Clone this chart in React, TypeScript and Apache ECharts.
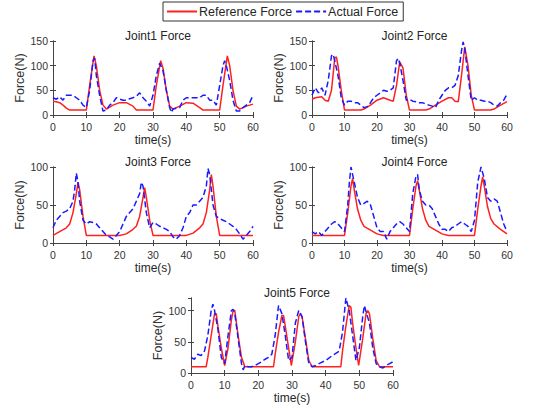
import React, { useEffect, useRef } from "react";
import * as echarts from "echarts";

const timeTicks = [0, 10, 20, 30, 40, 50, 60];
const titles = ["Joint1 Force", "Joint2 Force", "Joint3 Force", "Joint4 Force", "Joint5 Force"];
const yMax = [150, 150, 100, 100, 120];
const yInterval = [50, 50, 50, 50, 50];

const joint1Reference = [[0,28],[1,27],[2,25],[3,20],[4,14],[5,10],[10,10],[11,60],[12.3,120],[13,100],[14,50],[15,20],[16,12],[18,20],[20,25],[22,25],[24,18],[25,10],[30,10],[31,60],[32.3,110],[33,95],[34,50],[35,18],[36,12],[38,18],[40,25],[42,24],[44,15],[45,10],[50,10],[51,60],[52.3,120],[53,100],[54,50],[55,18],[56,12],[58,18],[60,22]];
const joint1Actual = [[0,35],[1,32],[2,37],[3,30],[4,40],[5,40],[6,40],[7,35],[8,30],[9,20],[10,15],[11,50],[12,110],[12.5,115],[13,80],[14,40],[15,8],[16,10],[17,20],[18,25],[19,35],[20,32],[21,30],[22,30],[23,33],[24,35],[25,38],[26,45],[27,35],[28,28],[29,18],[30,40],[31,80],[32,105],[33,90],[34,50],[35,15],[35.5,5],[36,12],[38,15],[39,30],[40,35],[42,35],[44,35],[45,40],[46,40],[47,30],[48,30],[49,20],[50,60],[51,100],[51.5,110],[52,100],[53,70],[54,30],[55,8],[56,8],[57,15],[58,20],[59,25],[60,40]];

const joint2Reference = [[0,32],[1,35],[3,37],[4,30],[5,28],[6,50],[7,115],[7.5,118],[8,100],[9,50],[10,10],[15,10],[16,12],[18,20],[20,30],[22,35],[24,30],[25,28],[26,60],[27,108],[28,95],[29,40],[30,10],[35,10],[36,12],[38,20],[40,28],[42,35],[43,35],[44,28],[45,27],[46,80],[47,138],[48,100],[49,40],[50,10],[55,10],[56,12],[58,20],[60,27]];
const joint2Actual = [[0,40],[1,55],[2,45],[3,55],[4,40],[5,70],[6,120],[6.5,123],[7,110],[8,80],[9,35],[10,20],[11,28],[12,28],[13,25],[14,25],[15,20],[16,15],[17,17],[18,25],[19,35],[20,40],[21,45],[22,50],[23,48],[24,50],[25,55],[26,110],[26.5,115],[27,105],[28,70],[29,30],[30,32],[31,28],[32,27],[33,25],[34,25],[35,22],[36,20],[37,18],[38,15],[39,30],[40,40],[41,50],[42,55],[43,55],[44,60],[45,80],[46,130],[46.5,148],[47,135],[48,80],[49,30],[50,35],[51,30],[52,30],[53,28],[54,28],[55,25],[56,20],[57,18],[58,25],[59,30],[60,42]];

const joint3Reference = [[0,10],[2,15],[4,20],[5,25],[6,40],[7,65],[7.5,80],[8,70],[9,35],[10,10],[20,10],[22,12],[24,18],[25,22],[26,35],[27,60],[27.5,73],[28,60],[29,30],[30,10],[40,10],[42,13],[44,20],[45,25],[46,40],[47,70],[47.5,90],[48,75],[49,35],[50,10],[60,10]];
const joint3Actual = [[0,20],[1,30],[2,35],[3,40],[4,42],[5,45],[6,55],[6.5,70],[7,92],[7.5,80],[8,55],[9,30],[10,25],[11,28],[12,27],[13,25],[14,20],[15,15],[16,10],[17,8],[18,5],[19,10],[20,15],[21,25],[22,35],[23,40],[24,45],[25,55],[26,65],[26.5,80],[27,75],[28,40],[29,20],[30,27],[31,25],[32,22],[33,20],[34,18],[35,15],[36,8],[37,5],[38,10],[39,20],[40,35],[41,40],[42,50],[43,50],[44,55],[45,60],[46,75],[46.5,98],[47,90],[48,50],[49,35],[50,32],[51,30],[52,28],[53,25],[54,22],[55,18],[56,12],[57,5],[58,10],[59,15],[60,22]];

const joint4Reference = [[0,10],[10,10],[11,40],[12,75],[12.5,85],[13,70],[14,45],[15,30],[16,22],[18,17],[20,12],[22,10],[30,10],[31,45],[32,75],[32.5,82],[33,70],[34,45],[35,30],[36,22],[38,17],[40,12],[42,10],[50,10],[51,45],[52,75],[52.5,87],[53,75],[54,48],[55,32],[56,25],[58,18],[60,12]];
const joint4Actual = [[0,15],[1,12],[2,15],[3,10],[4,15],[5,20],[6,25],[7,28],[8,25],[9,20],[10,15],[11,50],[11.5,80],[12,100],[13,80],[14,60],[15,50],[16,52],[17,55],[18,50],[19,35],[20,20],[21,15],[22,15],[23,5],[24,15],[25,20],[26,25],[27,28],[28,25],[29,20],[30,15],[31,65],[32,88],[32.5,90],[33,70],[34,55],[35,50],[36,50],[37,45],[38,35],[39,25],[40,18],[41,18],[42,15],[43,20],[44,22],[45,25],[46,28],[47,25],[48,22],[49,15],[50,30],[51,80],[52,100],[53,85],[54,60],[55,55],[56,58],[57,55],[58,40],[59,25],[60,15]];

const joint5Reference = [[0,10],[4.5,10],[5,25],[6,60],[7,95],[7.5,95],[8,75],[9,40],[10,12],[11,40],[12,85],[12.5,100],[13,100],[14,60],[15,25],[16,10],[24.5,10],[25,30],[26,65],[27,92],[27.5,92],[28,75],[29,40],[29.8,12],[31,50],[32,90],[32.5,95],[33,90],[34,55],[35,20],[36,10],[44.5,10],[45,35],[46,75],[47,108],[47.5,105],[48,80],[49,40],[49.8,12],[51,55],[52,95],[52.5,100],[53,95],[54,55],[55,20],[56,10],[60,10]];
const joint5Actual = [[0,25],[1,22],[2,30],[3,28],[4,35],[5,60],[6,100],[6.5,110],[7,100],[8,70],[9,25],[10,15],[11,60],[12,100],[12.5,102],[13,95],[14,55],[15,15],[15.5,5],[16,12],[17,10],[18,10],[19,12],[20,15],[21,18],[22,22],[23,25],[24,30],[25,60],[26,108],[27,95],[28,60],[29,20],[30,25],[31,80],[32,100],[33,90],[34,50],[35,15],[36,10],[37,12],[38,15],[40,20],[42,28],[44,35],[45,65],[46,120],[47,100],[48,60],[49,20],[50,40],[51,90],[51.5,108],[52,98],[53,80],[54,40],[55,15],[56,10],[57,8],[58,12],[59,15],[60,18]];

const referenceSets = [joint1Reference, joint2Reference, joint3Reference, joint4Reference, joint5Reference];
const actualSets = [joint1Actual, joint2Actual, joint3Actual, joint4Actual, joint5Actual];

const grids = [
  { left: 53, top: 41, width: 200, height: 74 },
  { left: 312, top: 41, width: 195, height: 74 },
  { left: 53, top: 167, width: 200, height: 76 },
  { left: 312, top: 167, width: 195, height: 76 },
  { left: 191, top: 298, width: 202, height: 75 },
];

const AX = "#444";
const TXT = "#262626";
const FONT = "Liberation Sans, Arial, sans-serif";
const RED = "#ff2020";
const BLUE = "#1a1aff";
const SOLID_ICON = "path://M0,0h30v2h-30z";
const DASH_ICON = "path://M0,0h6v2h-6z M9,0h6v2h-6z M18,0h6v2h-6z M27,0h3v2h-3z";

export default function App() {
  const ref = useRef<HTMLDivElement>(null);
  useEffect(() => {
    document.body.style.margin = "0";
    const chart = echarts.init(ref.current!, null, { renderer: "svg" });
    const xAxis: any[] = [];
    const yAxis: any[] = [];
    const series: any[] = [];
    const title: any[] = [];
    grids.forEach((g, i) => {
      title.push({
        text: titles[i],
        left: g.left + g.width / 2,
        top: g.top - 16,
        textAlign: "center",
        textStyle: { fontSize: 12, fontWeight: "normal", color: TXT, fontFamily: FONT },
      });
      xAxis.push({
        type: "value", gridIndex: i, min: 0, max: 60, interval: 10, position: "bottom",
        name: "time(s)", nameLocation: "middle", nameGap: 19,
        nameTextStyle: { fontSize: 12, color: TXT, fontFamily: FONT },
        axisLine: { show: true, lineStyle: { color: AX } },
        axisTick: { show: true, inside: true, length: 3, lineStyle: { color: AX } },
        axisLabel: { fontSize: 10.5, color: "#333", margin: 6, fontFamily: FONT,
          formatter: (v: number) => (timeTicks.includes(v) ? String(v) : "") },
        splitLine: { show: false },
      });
      xAxis.push({
        type: "value", gridIndex: i, min: 0, max: 60, interval: 10, position: "top",
        axisLine: { show: true, lineStyle: { color: AX } },
        axisTick: { show: true, inside: true, length: 3, lineStyle: { color: AX } },
        axisLabel: { show: false }, splitLine: { show: false },
      });
      yAxis.push({
        type: "value", gridIndex: i, min: 0, max: yMax[i], interval: yInterval[i], position: "left",
        name: "Force(N)", nameLocation: "middle", nameGap: 22, nameRotate: 90,
        nameTextStyle: { fontSize: 12.5, color: "#333", fontFamily: FONT },
        axisLine: { show: true, lineStyle: { color: AX } },
        axisTick: { show: true, inside: true, length: 3, lineStyle: { color: AX } },
        axisLabel: { fontSize: 10.5, color: "#333", margin: 5, fontFamily: FONT,
          showMaxLabel: yMax[i] % yInterval[i] === 0 },
        splitLine: { show: false },
      });
      yAxis.push({
        type: "value", gridIndex: i, min: 0, max: yMax[i], interval: yInterval[i], position: "right",
        axisLine: { show: true, lineStyle: { color: AX } },
        axisTick: { show: true, inside: true, length: 3, lineStyle: { color: AX } },
        axisLabel: { show: false }, splitLine: { show: false },
      });
      series.push({
        name: "Reference Force", type: "line", xAxisIndex: 2 * i, yAxisIndex: 2 * i,
        data: referenceSets[i], symbol: "none", showSymbol: false,
        lineStyle: { color: RED, width: 1.5 }, itemStyle: { color: RED }, z: 3,
      });
      series.push({
        name: "Actual Force", type: "line", xAxisIndex: 2 * i, yAxisIndex: 2 * i,
        data: actualSets[i], symbol: "none", showSymbol: false,
        lineStyle: { color: BLUE, width: 1.5, type: [6, 3] }, itemStyle: { color: BLUE }, z: 4,
      });
    });
    chart.setOption({
      animation: false,
      backgroundColor: "#fff",
      title,
      legend: {
        data: [
          { name: "Reference Force", icon: SOLID_ICON, itemStyle: { color: RED } },
          { name: "Actual Force", icon: DASH_ICON, itemStyle: { color: BLUE } },
        ],
        left: 163, top: 2,
        itemWidth: 30, itemHeight: 2, itemGap: 4,
        padding: [3, 5, 3, 4],
        borderColor: "#333", borderWidth: 1,
        textStyle: { fontSize: 12.5, color: TXT, fontFamily: FONT, padding: [0, 0, 0, -3] },
      },
      grid: grids.map((g) => ({ ...g, containLabel: false })),
      xAxis, yAxis, series,
    });
    return () => chart.dispose();
  }, []);
  return <div ref={ref} style={{ width: 536, height: 409 }} />;
}
